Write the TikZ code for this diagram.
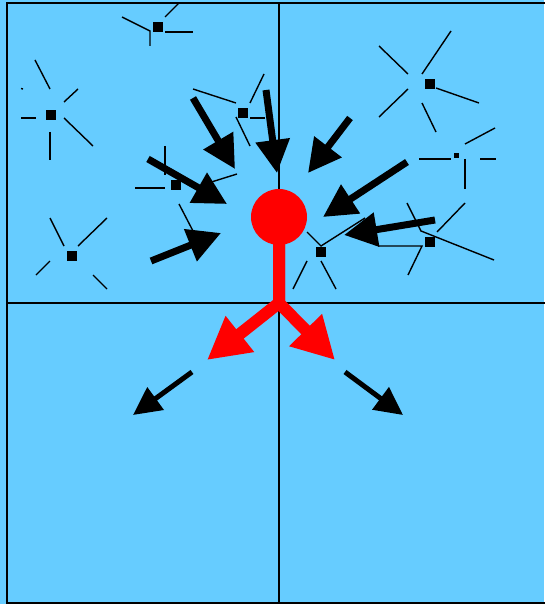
\documentclass[tikz,border=0pt]{standalone}
\usetikzlibrary{arrows.meta,positioning}
\definecolor{sky}{HTML}{66CCFF}

\begin{document}
\begin{tikzpicture}[
  x=1pt, y=-1pt,
  rule/.style={line width=1.6pt},
  ray/.style={line width=1.4pt},
  marker/.style={
    fill=black,
    inner sep=0pt,
    minimum size=10pt
  },
  dot/.style={marker, minimum size=5pt},
  pull/.style={line width=7pt, -{Triangle[length=33pt,width=33pt]}},
  push/.style={line width=5pt, -{Triangle[length=28pt,width=27pt]}},
  split/.style={red, line width=12pt, line join=miter,
    -{Triangle[length=42pt,width=43pt]}}
]

\useasboundingbox (0,0) rectangle (544,604);
\fill[sky] (0,0) rectangle (544,604);

% quadrants
\draw[rule] (546,3) -- (7,3) -- (7,603) -- (546,603);
\draw[rule] (7,303) -- (546,303);
\draw[rule] (279,3) -- (279,603);

% markers
\node[marker] (m1) at (158,27) {};
\node[marker] (m2) at (51,115) {};
\node[marker] (m3) at (243,113) {};
\node[marker] (m4) at (176,185) {};
\node[marker] (m5) at (72,256) {};
\node[marker] (m6) at (430,84) {};
\node[dot]    (m7) at (456,156) {};
\node[marker] (m8) at (430,242) {};
\node[marker] (m9) at (321,252) {};

% rays round the markers
\draw[ray] (122,17) -- (150,31) -- (150,46);
\draw[ray] (165,17) -- (179,3);
\draw[ray] (165,32) -- (193,32);

\draw[ray] (35,60) -- (50,89);
\draw[ray] (64,102) -- (78,89);
\draw[ray] (21,88.5) -- (23,89);
\draw[ray] (21,118) -- (36,118);
\draw[ray] (64,118) -- (93,146);
\draw[ray] (50,132) -- (50,160);

\draw[ray] (193,89) -- (236,103);
\draw[ray] (250,103) -- (264,74);
\draw[ray] (250,118) -- (265,118);
\draw[ray] (236,117) -- (250,146);

\draw[ray] (165,146) -- (165,175);
\draw[ray] (135,188) -- (165,188);
\draw[ray] (205,184) -- (237,174);
\draw[ray] (179,204) -- (193,231);

\draw[ray] (50,218) -- (64,246);
\draw[ray] (78,246) -- (107,218);
\draw[ray] (36,275) -- (50,261);
\draw[ray] (93,275) -- (107,289);

\draw[ray] (379,46) -- (408,74);
\draw[ray] (422,74) -- (451,31);
\draw[ray] (379,117) -- (408,89);
\draw[ray] (436,88) -- (479,103);
\draw[ray] (422,103) -- (436,132);

\draw[ray] (419,159) -- (451,159);
\draw[ray] (480,159) -- (496,159);
\draw[ray] (465,144) -- (495,128);
\draw[ray] (465,159) -- (465,189);

\draw[ray] (407,203) -- (421,231) -- (494,260);
\draw[ray] (437,232) -- (465,203);
\draw[ray] (378,246) -- (422,246) -- (408,275);

\draw[ray] (307,232) -- (321,246) -- (365,218);
\draw[ray] (293,289) -- (307,261);
\draw[ray] (321,261) -- (336,289);

% inflow
\coordinate (t1) at (193,98);   \coordinate (h1) at (235,169);
\coordinate (t2) at (266,90);   \coordinate (h2) at (277,173);
\coordinate (t3) at (148,159);  \coordinate (h3) at (227,204);
\coordinate (t4) at (151,261);  \coordinate (h4) at (221,233);
\coordinate (t5) at (350,118);  \coordinate (h5) at (308,173);
\coordinate (t6) at (407,162);  \coordinate (h6) at (323,217);
\coordinate (t7) at (435,220);  \coordinate (h7) at (344,235);

\draw[pull] (t1) -- (h1);
\draw[pull] (t2) -- (h2);
\draw[pull] (t3) -- (h3);
\draw[pull] (t4) -- (h4);
\draw[pull] (t5) -- (h5);
\draw[pull] (t6) -- (h6);
\draw[pull] (t7) -- (h7);

% hub and outflow
\node[circle, fill=red, minimum size=56pt, inner sep=0pt] (hub) at (279,217) {};
\coordinate (fork) at (279,303);
\coordinate (outL) at (207,360);
\coordinate (outR) at (335,360);

\draw[split] (hub.center) -- (fork) -- (outL);
\draw[split] (hub.center) -- (fork) -- (outR);

\coordinate (t8) at (192,372);  \coordinate (h8) at (133,415);
\coordinate (t9) at (345,372);  \coordinate (h9) at (403,415);

\draw[push] (t8) -- (h8);
\draw[push] (t9) -- (h9);

\end{tikzpicture}
\end{document}
